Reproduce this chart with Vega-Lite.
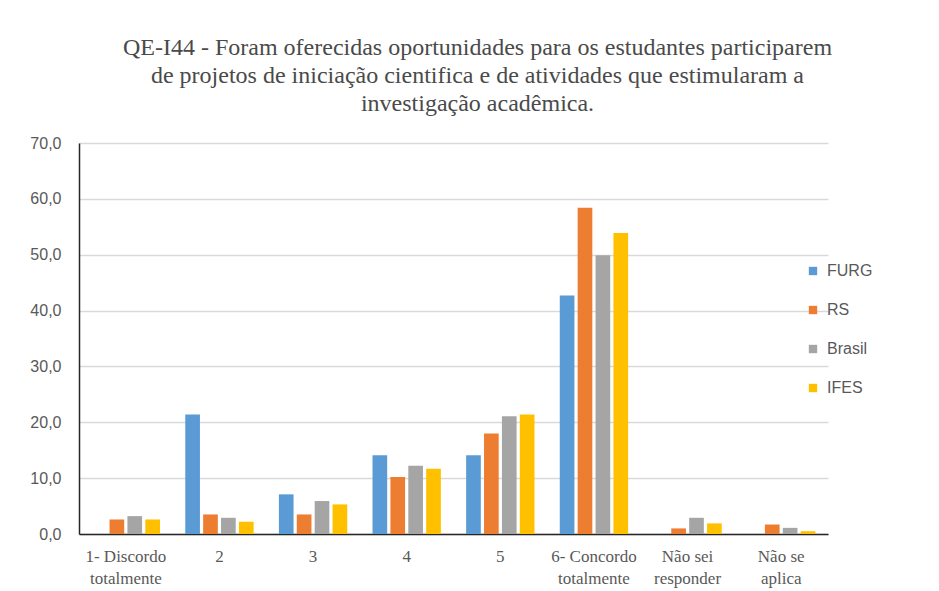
{
  "$schema": "https://vega.github.io/schema/vega-lite/v6.json",
  "width": 749,
  "height": 391,
  "autosize": {"type": "none"},
  "padding": {"left": 79, "top": 143, "right": 111, "bottom": 57},
  "background": "white",
  "title": {
    "text": ["QE-I44 - Foram oferecidas oportunidades para os estudantes participarem", "de projetos de iniciação cientifica e de atividades que estimularam a", "investigação acadêmica."],
    "font": "Liberation Serif",
    "fontSize": 24,
    "fontWeight": "normal",
    "color": "#4a4a4a",
    "lineHeight": 28,
    "anchor": "middle",
    "dx": 24,
    "offset": 19
  },
  "data": {
    "values": [
      {"cat": "1- Discordo|totalmente", "serie": "FURG", "valor": 0},
      {"cat": "1- Discordo|totalmente", "serie": "RS", "valor": 2.6},
      {"cat": "1- Discordo|totalmente", "serie": "Brasil", "valor": 3.2},
      {"cat": "1- Discordo|totalmente", "serie": "IFES", "valor": 2.6},
      {"cat": "2", "serie": "FURG", "valor": 21.4},
      {"cat": "2", "serie": "RS", "valor": 3.5},
      {"cat": "2", "serie": "Brasil", "valor": 2.9},
      {"cat": "2", "serie": "IFES", "valor": 2.2},
      {"cat": "3", "serie": "FURG", "valor": 7.1},
      {"cat": "3", "serie": "RS", "valor": 3.5},
      {"cat": "3", "serie": "Brasil", "valor": 5.9},
      {"cat": "3", "serie": "IFES", "valor": 5.3},
      {"cat": "4", "serie": "FURG", "valor": 14.1},
      {"cat": "4", "serie": "RS", "valor": 10.2},
      {"cat": "4", "serie": "Brasil", "valor": 12.2},
      {"cat": "4", "serie": "IFES", "valor": 11.7},
      {"cat": "5", "serie": "FURG", "valor": 14.1},
      {"cat": "5", "serie": "RS", "valor": 18.0},
      {"cat": "5", "serie": "Brasil", "valor": 21.1},
      {"cat": "5", "serie": "IFES", "valor": 21.4},
      {"cat": "6- Concordo|totalmente", "serie": "FURG", "valor": 42.7},
      {"cat": "6- Concordo|totalmente", "serie": "RS", "valor": 58.4},
      {"cat": "6- Concordo|totalmente", "serie": "Brasil", "valor": 49.9},
      {"cat": "6- Concordo|totalmente", "serie": "IFES", "valor": 53.9},
      {"cat": "Não sei|responder", "serie": "FURG", "valor": 0},
      {"cat": "Não sei|responder", "serie": "RS", "valor": 1.0},
      {"cat": "Não sei|responder", "serie": "Brasil", "valor": 2.9},
      {"cat": "Não sei|responder", "serie": "IFES", "valor": 1.9},
      {"cat": "Não se|aplica", "serie": "FURG", "valor": 0},
      {"cat": "Não se|aplica", "serie": "RS", "valor": 1.7},
      {"cat": "Não se|aplica", "serie": "Brasil", "valor": 1.1},
      {"cat": "Não se|aplica", "serie": "IFES", "valor": 0.5}
    ]
  },
  "mark": {"type": "bar"},
  "encoding": {
    "x": {
      "field": "cat",
      "type": "nominal",
      "sort": null,
      "scale": {"paddingInner": 0.27, "paddingOuter": 0.135},
      "axis": {
        "title": null,
        "labelAngle": 0,
        "labelExpr": "split(datum.value, '|')",
        "labelFont": "Liberation Serif",
        "labelFontSize": 17,
        "labelColor": "#595959",
        "labelLineHeight": 22,
        "labelPadding": 14,
        "ticks": false,
        "domainColor": "#262626",
        "domainWidth": 1.5
      }
    },
    "xOffset": {
      "field": "serie",
      "type": "nominal",
      "sort": ["FURG", "RS", "Brasil", "IFES"],
      "scale": {"paddingInner": 0.18}
    },
    "y": {
      "field": "valor",
      "type": "quantitative",
      "scale": {"domain": [0, 70]},
      "axis": {
        "title": null,
        "values": [0, 10, 20, 30, 40, 50, 60, 70],
        "labelExpr": "replace(format(datum.value, '.1f'), '.', ',')",
        "labelFont": "Liberation Sans",
        "labelFontSize": 16,
        "labelColor": "#595959",
        "labelPadding": 18,
        "ticks": false,
        "domainColor": "#262626",
        "domainWidth": 1.5,
        "gridColor": "#d9d9d9",
        "gridWidth": 1.5
      }
    },
    "color": {
      "field": "serie",
      "type": "nominal",
      "sort": ["FURG", "RS", "Brasil", "IFES"],
      "scale": {"domain": ["FURG", "RS", "Brasil", "IFES"], "range": ["#5B9BD5", "#ED7D31", "#A5A5A5", "#FFC000"]},
      "legend": {
        "title": null,
        "orient": "none",
        "legendX": 726,
        "legendY": 120,
        "symbolType": "square",
        "symbolSize": 70,
        "symbolStrokeWidth": 0,
        "labelFont": "Liberation Sans",
        "labelFontSize": 16,
        "labelColor": "#595959",
        "rowPadding": 23,
        "labelOffset": 6
      }
    }
  },
  "config": {"view": {"stroke": null}}
}
